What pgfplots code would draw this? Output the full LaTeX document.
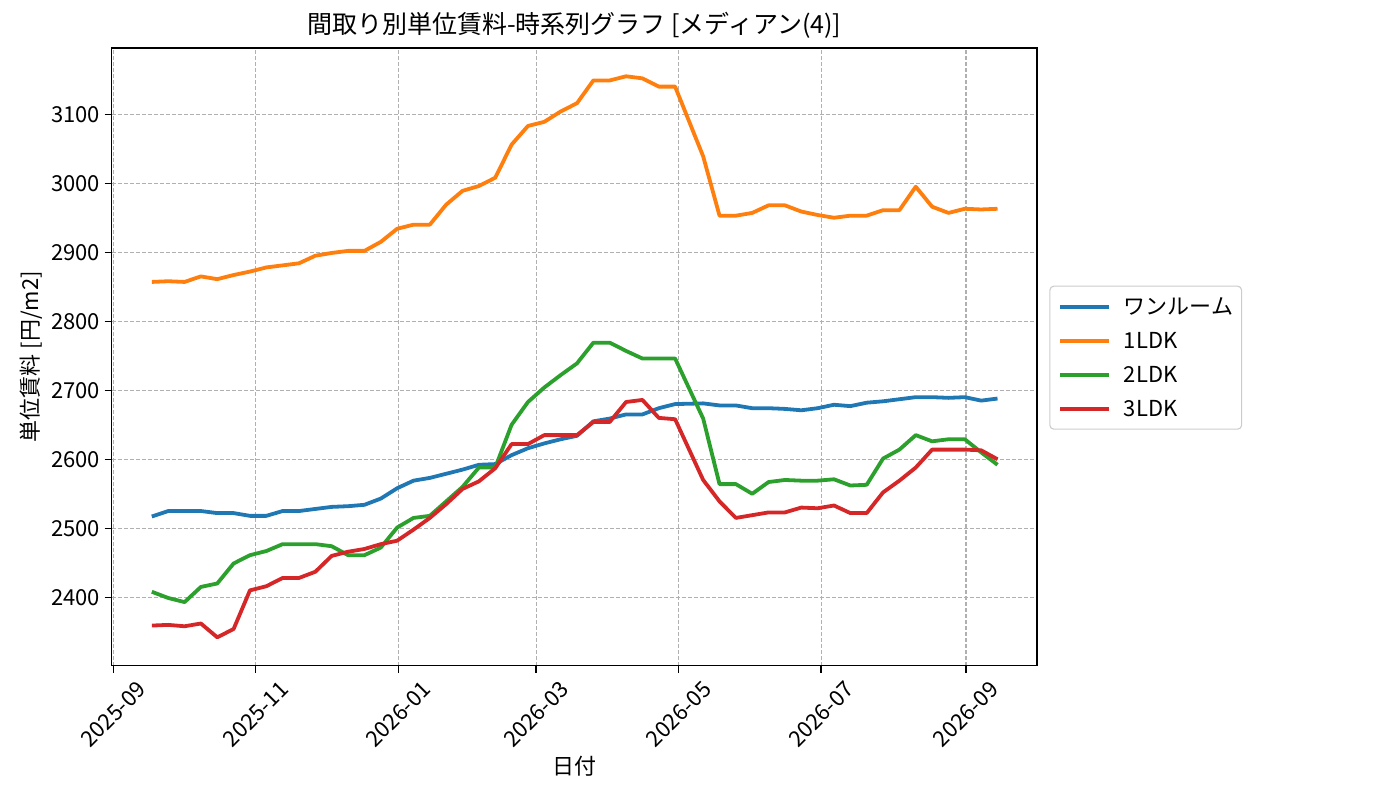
\documentclass[border=0pt]{standalone}
\usepackage{fontspec}
\setmainfont{Noto Sans CJK JP}
\usepackage{pgfplots}
\usepackage{pgfplotstable}
\pgfplotsset{compat=1.18}

\definecolor{tabblue}{HTML}{1F77B4}
\definecolor{taborange}{HTML}{FF7F0E}
\definecolor{tabgreen}{HTML}{2CA02C}
\definecolor{tabred}{HTML}{D62728}
\definecolor{gridgray}{HTML}{B0B0B0}
\definecolor{legendedge}{HTML}{CCCCCC}

% day = days since 2025-09-01; one = ワンルーム, l1..l3 = 1LDK..3LDK
\pgfplotstableread{
day   one  l1   l2   l3
16.5  2517 2857 2408 2359
23.5  2525 2858 2399 2360
30.5  2525 2857 2393 2358
37.5  2525 2865 2415 2362
44.5  2522 2861 2420 2342
51.5  2522 2867 2449 2354
58.5  2518 2872 2461 2410
65.5  2518 2878 2467 2416
72.5  2525 2881 2477 2428
79.5  2525 2884 2477 2428
86.5  2528 2895 2477 2437
93.5  2531 2899 2474 2460
100.5 2532 2902 2461 2466
107.5 2534 2902 2461 2470
114.5 2543 2915 2472 2477
121.5 2558 2934 2501 2482
128.5 2569 2940 2515 2498
135.5 2573 2940 2518 2515
142.5 2579 2969 2539 2535
149.5 2585 2989 2560 2557
156.5 2592 2996 2588 2568
163.5 2593 3008 2588 2587
170.5 2606 3056 2650 2622
177.5 2616 3083 2683 2622
184.5 2623 3089 2704 2635
191.5 2629 3104 2722 2635
198.5 2634 3116 2739 2635
205.5 2655 3149 2769 2654
212.5 2659 3149 2769 2654
219.5 2665 3155 2757 2683
226.5 2665 3152 2746 2686
233.5 2674 3140 2746 2660
240.5 2680 3140 2746 2658
252.5 2681 3039 2659 2570
259.5 2678 2953 2564 2539
266.5 2678 2953 2564 2515
273.5 2674 2957 2550 2519
280.5 2674 2968 2567 2523
287.5 2673 2968 2570 2523
294.5 2671 2959 2569 2530
301.5 2674 2954 2569 2529
308.5 2679 2950 2571 2533
315.5 2677 2953 2562 2522
322.5 2682 2953 2563 2522
329.5 2684 2961 2601 2552
336.5 2687 2961 2614 2569
343.5 2690 2995 2635 2588
350.5 2690 2966 2626 2614
357.5 2689 2957 2629 2614
364.5 2690 2963 2629 2614
371.5 2685 2962 2610 2613
378.5 2688 2963 2592 2600
}\rent

\begin{document}
\begin{tikzpicture}
\useasboundingbox (-111.7pt,-134.4pt) rectangle (1288.3pt,665.6pt);
\begin{axis}[
    at={(0pt,0pt)}, anchor=south west,
    scale only axis,
    width=925.3pt, height=617.6pt,
    xmin=-0.68, xmax=395.4,
    ymin=2301, ymax=3196,
    xtick={0,61,122,181,242,303,365},
    xticklabels={2025-09,2025-11,2026-01,2026-03,2026-05,2026-07,2026-09},
    ytick={2400,2500,2600,2700,2800,2900,3000,3100},
    minor tick num=0,
    tick pos=left,
    tick align=outside,
    major tick length=7pt,
    every tick/.style={black, line width=1.3pt},
    axis line style={line width=1.3pt},
    grid=major,
    major grid style={gridgray, line width=1.1pt, dash pattern=on 4pt off 2pt},
    /pgf/number format/assume math mode=true,
    /pgf/number format/1000 sep={},
    tick label style={font=\fontsize{22}{26}\selectfont},
    yticklabel style={anchor=east, inner sep=0pt, xshift=-4.5pt},
    xticklabel style={yshift=-41.8pt, anchor=center, rotate=45, inner sep=0pt},
    title={間取り別単位賃料-時系列グラフ [メディアン(4)]},
    title style={at={(0.5,1)}, anchor=base, yshift=8.5pt, inner sep=0pt,
        font=\fontsize{25}{30}\selectfont},
    xlabel={日付},
    xlabel style={at={(axis description cs:0.5,-0.1637)}, anchor=center,
        inner sep=0pt, font=\fontsize{22}{26}\selectfont},
    ylabel={単位賃料 [円/m2]},
    ylabel style={at={(axis description cs:-0.0865,0.5)}, anchor=center,
        rotate=0, inner sep=0pt, font=\fontsize{22}{26}\selectfont},
    legend style={at={(1.0133,0.4986)}, anchor=west,
        draw=legendedge, line width=1.1pt, rounded corners=4pt, fill=white,
        inner xsep=8.3pt, inner ysep=3.5pt, column sep=13pt, row sep=0pt,
        font=\fontsize{22}{26}\selectfont,
        nodes={inner sep=0pt, text height=25pt, text depth=9pt}},
    legend cell align=left,
    legend image code/.code={\draw[#1] (0pt,0pt) -- (49pt,0pt);},
    every axis plot/.append style={line width=3.8pt, line join=round},
]
\addplot[tabblue, no markers] table[x=day, y=one] {\rent};
\addplot[taborange, no markers] table[x=day, y=l1] {\rent};
\addplot[tabgreen, no markers] table[x=day, y=l2] {\rent};
\addplot[tabred, no markers] table[x=day, y=l3] {\rent};
\legend{ワンルーム, 1LDK, 2LDK, 3LDK}
\end{axis}
\end{tikzpicture}
\end{document}
